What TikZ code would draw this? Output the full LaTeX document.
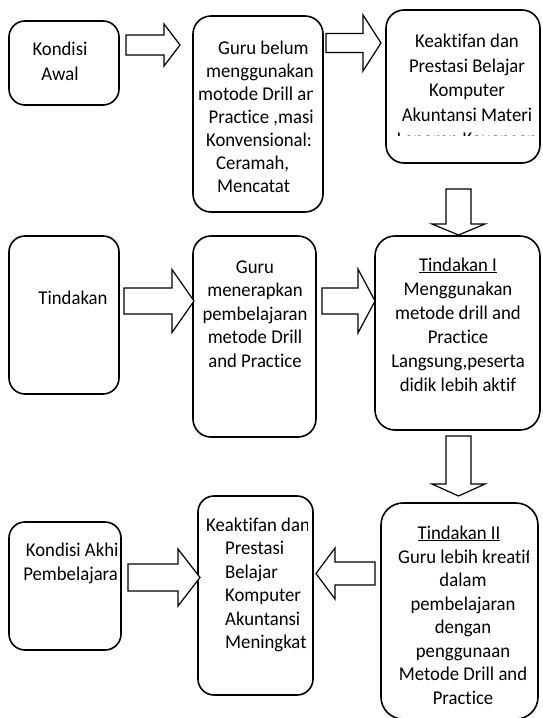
\documentclass[tikz,border=0pt]{standalone}
\usepackage{fontspec}
\setmainfont{Carlito}[FakeStretch=0.96, Ligatures=CommonOff]
\tikzset{
  box/.style={draw, line width=1.6pt, rounded corners=16pt, inner sep=0pt},
  blk/.style={draw, line width=1.2pt, fill=white, line join=miter},
  txt/.style={inner sep=0pt, font=\fontsize{19.5}{23.5}\selectfont},
}
% right/left block arrow: tail x, head-base x, tip x, centre y, body half, head half
\newcommand\hblock[6]{\draw[blk] ({#1},{#4-#5}) -- ({#2},{#4-#5}) -- ({#2},{#4-#6}) -- ({#3},{#4}) -- ({#2},{#4+#6}) -- ({#2},{#4+#5}) -- ({#1},{#4+#5}) -- cycle;}
% downward block arrow: tail y, head-base y, tip y, centre x, body half, head half
\newcommand\vblock[6]{\draw[blk] ({#4-#5},{#1}) -- ({#4-#5},{#2}) -- ({#4-#6},{#2}) -- ({#4},{#3}) -- ({#4+#6},{#2}) -- ({#4+#5},{#2}) -- ({#4+#5},{#1}) -- cycle;}
% lines of text: name, anchor, x, first baseline y, line step, list
\makeatletter
\newcommand\tlines[6]{\foreach \tl@x [count=\i] in {#6}{\node[txt,anchor=#2] (#1\i) at ({#3},{#4+(\i-1)*#5}) {\tl@x};}}
\makeatother
\begin{document}
\begin{tikzpicture}[x=1pt,y=-1pt]
\fill[white] (0,0) rectangle (542,718);
\useasboundingbox (0,0) rectangle (542,718);

% boxes
\node[box, minimum width=110pt, minimum height=84pt]  (A) at (64,63) {};
\node[box, rounded corners=18pt, minimum width=130pt, minimum height=196pt] (B) at (258,114) {};
\node[box, rounded corners=18pt, minimum width=154pt, minimum height=153pt] (C) at (463,86.5) {};
\node[box, minimum width=110pt, minimum height=158pt] (D) at (64,315) {};
\node[box, rounded corners=18pt, minimum width=123pt, minimum height=201pt] (E) at (254.5,336.5) {};
\node[box, rounded corners=20pt, minimum width=165pt, minimum height=194pt] (F) at (457.5,333) {};
\node[box, minimum width=112pt, minimum height=128pt] (G) at (65,586) {};
\node[box, minimum width=115pt, minimum height=199pt] (H) at (255.5,595.5) {};
\node[box, rounded corners=22pt, minimum width=157pt, minimum height=216pt] (I) at (459.5,611) {};

% block arrows
\hblock{126}{164}{180}{45}{10}{21}
\hblock{326}{363}{381}{43}{9.5}{28}
\vblock{189}{224}{235}{458.5}{12.5}{26.5}
\hblock{124}{172}{194}{301}{13}{31.5}
\hblock{322}{358}{375}{301}{13}{32}
\vblock{436}{484}{496}{458.5}{12.5}{26.5}
\hblock{128}{178}{200}{577.5}{13.5}{28.5}
\hblock{375}{335}{316}{573.5}{11.5}{25.5}

% texts
\tlines{ta}{base}{60}{55}{25}{Kondisi,Awal}

\begin{scope}
\clip (193,16) rectangle (312.5,212);
\node[txt,anchor=base west] (tb1) at (218,54) {Guru belum};
\node[txt,anchor=base west] (tb2) at (206,77) {menggunakan};
\node[txt,anchor=base west] (tb3) at (198,100) {motode Drill and};
\node[txt,anchor=base west] (tb4) at (208.5,123) {Practice ,masih};
\node[txt,anchor=base west] (tb5) at (206,146) {Konvensional:};
\node[txt,anchor=base west] (tb6) at (216,169) {Ceramah,};
\node[txt,anchor=base west] (tb7) at (217,192) {Mencatat};
\end{scope}

\begin{scope}
\clip (386,10) rectangle (541,135.5);
\tlines{tc}{base}{467}{47.5}{24.6}{Keaktifan dan,Prestasi Belajar,Komputer,Akuntansi Materi,Laporan Keuangan}
\end{scope}

\node[txt,anchor=base] (td1) at (73,304) {Tindakan};

\tlines{te}{base}{255}{273}{23.5}{Guru,menerapkan,pembelajaran,metode Drill,and Practice}

\tlines{tf}{base}{458}{271}{24}{\underline{Tindakan I},Menggunakan,metode drill and,Practice,{Langsung,peserta},didik lebih aktif}

\begin{scope}
\clip (9,522) rectangle (117,650);
\tlines{tg}{base}{75.5}{556}{24}{Kondisi Akhir,Pembelajaran}
\end{scope}

\begin{scope}
\clip (198,496) rectangle (307,695);
\node[txt,anchor=base west] (th1) at (206,531) {Keaktifan dan};
\node[txt,anchor=base west] (th2) at (225,554.5) {Prestasi};
\node[txt,anchor=base west] (th3) at (225,578) {Belajar};
\node[txt,anchor=base west] (th4) at (225,601.5) {Komputer};
\node[txt,anchor=base west] (th5) at (225,625) {Akuntansi};
\node[txt,anchor=base west] (th6) at (225,648.5) {Meningkat};
\end{scope}

\begin{scope}
\clip (381,503) rectangle (528,718);
\node[txt,anchor=base] (ti1) at (459,539) {\underline{Tindakan II}};
\node[txt,anchor=base west] (ti2) at (398,563) {Guru lebih kreatif};
\tlines{tj}{base}{463}{586.5}{23.5}{dalam,pembelajaran,dengan,penggunaan,Metode Drill and,Practice}
\end{scope}
\end{tikzpicture}
\end{document}
